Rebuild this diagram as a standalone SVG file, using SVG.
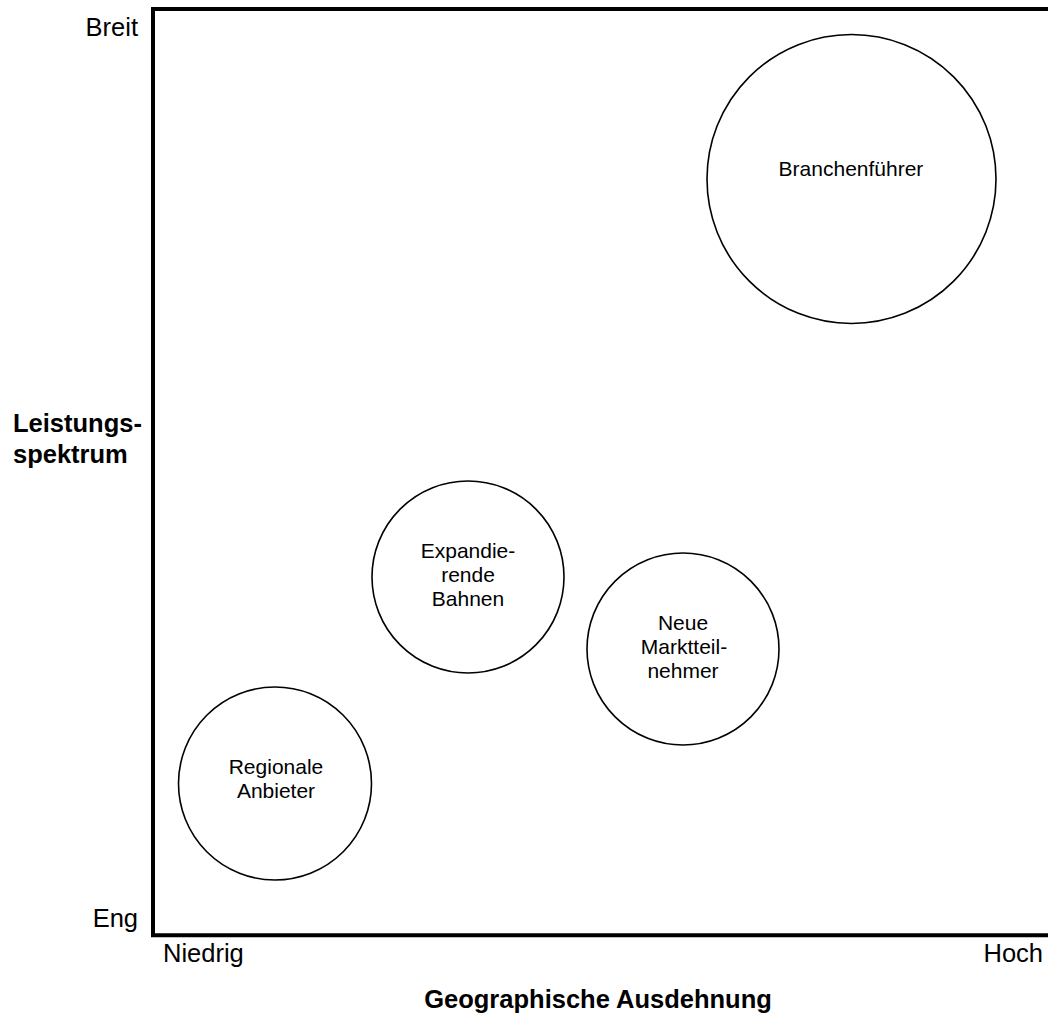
<svg xmlns="http://www.w3.org/2000/svg" width="1048" height="1014" viewBox="0 0 1048 1014">
<style>
.axis{fill:none;stroke:#000;stroke-width:4;stroke-linejoin:miter}
.node circle{fill:#fff;stroke:#000;stroke-width:1.6}
.lbl{font-family:"Liberation Sans",Arial,sans-serif;font-size:21px;fill:#000;text-anchor:middle}
.ax{font-family:"Liberation Sans",Arial,sans-serif;font-size:25.5px;fill:#000}
.axb{font-family:"Liberation Sans",Arial,sans-serif;font-size:25.5px;font-weight:bold;fill:#000}
</style>
<rect width="1048" height="1014" fill="#fff"/>
<g id="connectors">
<path class="axis" d="M1048,9 H153 V935.3 H1048"/>
</g>
<g id="axis-labels">
<text class="ax" x="138" y="36" text-anchor="end">Breit</text>
<text class="ax" x="138" y="927" text-anchor="end">Eng</text>
<text class="ax" x="163" y="962">Niedrig</text>
<text class="ax" x="1043" y="962" text-anchor="end">Hoch</text>
<text class="axb" x="13" y="432">Leistungs-</text>
<text class="axb" x="13" y="463">spektrum</text>
<text class="axb" x="598" y="1008" text-anchor="middle">Geographische Ausdehnung</text>
</g>
<g id="branchenfuehrer" class="node">
<circle cx="851.5" cy="179" r="144.5"/>
<text class="lbl" x="851" y="176">Branchenführer</text>
</g>
<g id="expandierende-bahnen" class="node">
<circle cx="468" cy="577" r="96"/>
<text class="lbl" x="468" y="558">Expandie-</text>
<text class="lbl" x="468" y="582">rende</text>
<text class="lbl" x="468" y="606">Bahnen</text>
</g>
<g id="neue-marktteilnehmer" class="node">
<circle cx="683" cy="649" r="96"/>
<text class="lbl" x="683" y="630">Neue</text>
<text class="lbl" x="684" y="654">Marktteil-</text>
<text class="lbl" x="683" y="678">nehmer</text>
</g>
<g id="regionale-anbieter" class="node">
<circle cx="275" cy="783.5" r="96.5"/>
<text class="lbl" x="276" y="774">Regionale</text>
<text class="lbl" x="276" y="798">Anbieter</text>
</g>
</svg>
